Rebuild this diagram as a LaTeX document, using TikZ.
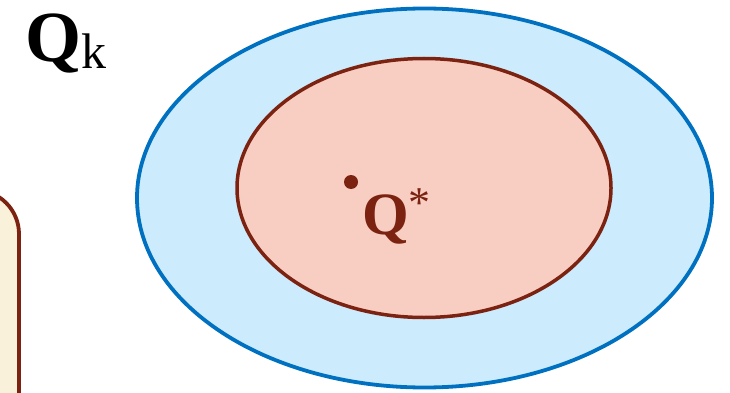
\documentclass[tikz,border=0pt]{standalone}
\usepackage{fontspec}
\setmainfont{Liberation Serif}
\definecolor{outerfill}{HTML}{CCEBFC}
\definecolor{outerline}{HTML}{0070C0}
\definecolor{innerfill}{HTML}{F8CEC3}
\definecolor{brownline}{HTML}{7B2211}
\definecolor{creamfill}{HTML}{FAF1DB}
\begin{document}
\begin{tikzpicture}[x=1pt,y=-1pt,
  outerset/.style={fill=outerfill,draw=outerline,line width=3.8pt},
  innerset/.style={fill=innerfill,draw=brownline,line width=3.5pt},
  boxstyle/.style={fill=creamfill,draw=brownline,line width=3.8pt,rounded corners=44pt},
  lbl/.style={inner sep=0pt,anchor=base west}]
\useasboundingbox (0,0) rectangle (730,393);
\draw[boxstyle] (-120,190) rectangle (19,460);
\draw[outerset] (424.5,198) ellipse [x radius=287.5, y radius=189.5];
\draw[innerset] (424,188) ellipse [x radius=187, y radius=129.5];
\fill[brownline] (351,182) circle [radius=7];
\node[lbl] (qk) at (25,62) {\fontsize{72}{72}\selectfont\bfseries Q\raisebox{-7pt}{\fontsize{50}{50}\selectfont\mdseries k}};
\node[lbl,text=brownline] (qstar) at (362,234) {\fontsize{60}{60}\selectfont\bfseries Q\raisebox{17pt}{\fontsize{44}{44}\selectfont\mdseries *}};
\end{tikzpicture}
\end{document}
